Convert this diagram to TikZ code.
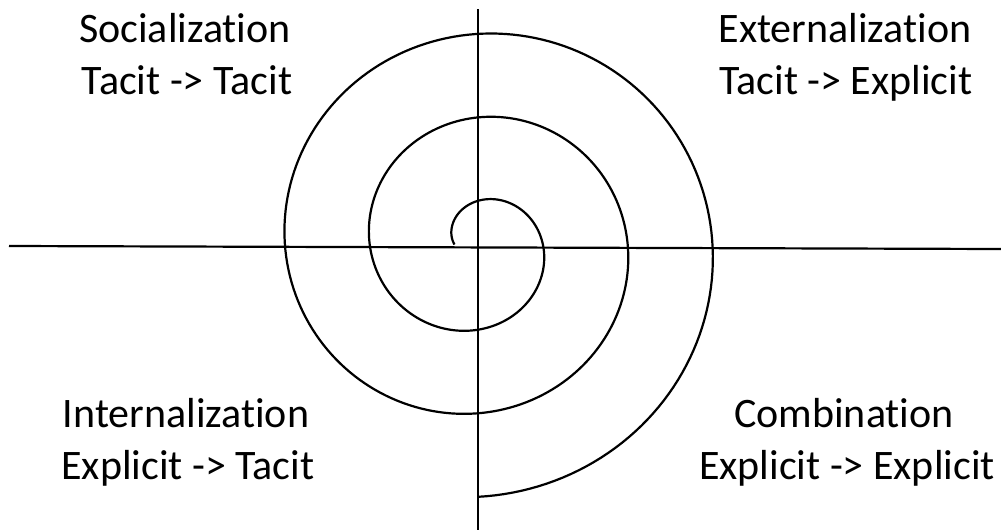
\documentclass[tikz,border=0pt]{standalone}
\usepackage{fontspec}
\setmainfont{Carlito}[Ligatures={NoCommon,NoRequired,NoContextual}]
\begin{document}
\begin{tikzpicture}[x=1pt,y=-1pt,
  axisline/.style={line width=2.2pt,black},
  spiralline/.style={line width=2.2pt,black},
  lbl/.style={anchor=base,inner sep=0pt,font=\fontsize{42}{51}\selectfont}]
\useasboundingbox (0,0) rectangle (1001,530);
% axes
\coordinate (hL) at (9,246);
\coordinate (hR) at (1001,249);
\coordinate (vT) at (478,9);
\coordinate (vB) at (478,530);
\draw[axisline] (hL) -- (hR);
\draw[axisline] (vT) -- (vB);
% spiral
\draw[spiralline] plot[domain=0:990,samples=500,variable=\t]
  ({477.5+(23+0.235556*\t)*cos(180-\t)},{244.5-0.985*(23+0.235556*\t)*sin(180-\t)});
% labels
\node[lbl] (soc1) at (185,42) {Socialization};
\node[lbl] (soc2) at (187,94) {Tacit -> Tacit};
\node[lbl] (ext1) at (845,42) {Externalization};
\node[lbl] (ext2) at (846,94) {Tacit -> Explicit};
\node[lbl] (int1) at (186,427) {Internalization};
\node[lbl] (int2) at (188,479) {Explicit -> Tacit};
\node[lbl] (com1) at (844,427) {Combination};
\node[lbl] (com2) at (847,479) {Explicit -> Explicit};
\end{tikzpicture}
\end{document}
